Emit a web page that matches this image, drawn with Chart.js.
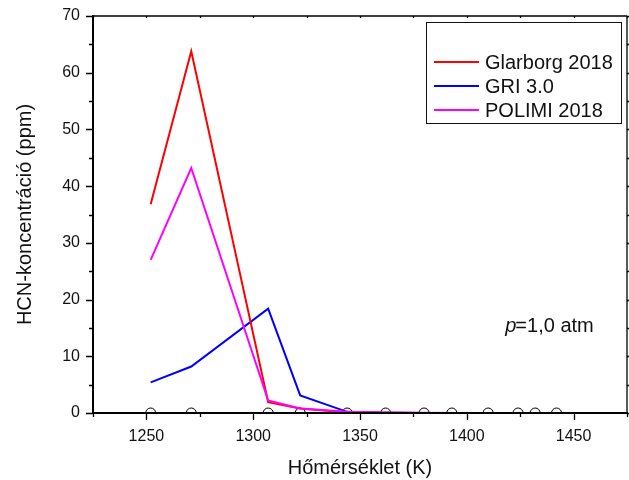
<!DOCTYPE html>
<html>
<head>
<meta charset="utf-8">
<script src="https://cdn.jsdelivr.net/npm/chart.js@4.4.1/dist/chart.umd.min.js"></script>
<style>
html,body{margin:0;padding:0;background:#fff;}
#wrap{width:629px;height:480px;}
</style>
</head>
<body>
<div id="wrap"><canvas id="c" width="629" height="480"></canvas></div>
<script>
// Temperatures (K)
const temps = [1252, 1271, 1307, 1322, 1344, 1362, 1380, 1393, 1410, 1424, 1432, 1442];
// HCN concentration (ppm)
const glarborg = [36.8, 63.8, 1.9, 0.8, 0.1, 0.05, 0.02, 0.01, 0, 0, 0, 0];
const gri      = [5.4, 8.2, 18.4, 3.1, 0.2, 0.05, 0.02, 0.01, 0, 0, 0, 0];
const polimi   = [27.0, 43.2, 2.2, 0.8, 0.2, 0.1, 0.05, 0.02, 0.01, 0, 0, 0];
const measured = [0, 0, 0, 0, 0, 0, 0, 0, 0, 0, 0, 0];
const seriesLabels = ['Glarborg 2018', 'GRI 3.0', 'POLIMI 2018'];
const seriesColors = ['#ff0000', '#0000ff', '#ff00ff'];
const xTickValues = [1250, 1300, 1350, 1400, 1450];
const yTickValues = [0, 10, 20, 30, 40, 50, 60, 70];
const xTitle = 'Hőmérséklet (K)';
const yTitle = 'HCN-koncentráció (ppm)';
const xMin = 1225, xMax = 1475;
const yMin = 0, yMax = 70;

const pts = arr => temps.map((t, i) => ({x: t, y: arr[i]}));
const FONT = 'Arial, "Liberation Sans", sans-serif';

const framePlugin = {
  id: 'frame',
  afterDatasetsDraw(chart) {
    const ctx = chart.ctx, a = chart.chartArea;
    const xs = chart.scales.x, ys = chart.scales.y;
    ctx.save();
    ctx.strokeStyle = '#000';
    ctx.lineWidth = 1.3;
    ctx.beginPath();
    ctx.moveTo(a.left, a.top); ctx.lineTo(a.right, a.top);
    ctx.moveTo(a.right, a.top); ctx.lineTo(a.right, a.bottom);
    ctx.stroke();
    ctx.lineWidth = 2;
    ctx.beginPath();
    ctx.moveTo(a.left, a.top - 1); ctx.lineTo(a.left, a.bottom + 1);
    ctx.moveTo(a.left - 1, a.bottom); ctx.lineTo(a.right + 1, a.bottom);
    ctx.stroke();
    // major and minor ticks
    const xStep = xTickValues[1] - xTickValues[0];
    const yStep = yTickValues[1] - yTickValues[0];
    ctx.lineWidth = 1.3;
    ctx.beginPath();
    for (let v = xMin; v <= xMax; v += xStep / 2) {
      const px = Math.round(xs.getPixelForValue(v)) + 0.5;
      const major = xTickValues.includes(v);
      ctx.moveTo(px, a.bottom); ctx.lineTo(px, a.bottom + (major ? 7 : 4));
      ctx.moveTo(px, a.top); ctx.lineTo(px, a.top + 2);
    }
    for (let v = yMin; v <= yMax; v += yStep / 2) {
      const py = Math.round(ys.getPixelForValue(v)) + 0.5;
      const major = yTickValues.includes(v);
      ctx.moveTo(a.left, py); ctx.lineTo(a.left - (major ? 7 : 4), py);
      ctx.moveTo(a.right, py); ctx.lineTo(a.right + 2, py);
    }
    ctx.stroke();

    // legend box
    const lx = 426, ly = 22, lw = 195, lh = 101;
    ctx.fillStyle = '#fff';
    ctx.fillRect(lx, ly, lw, lh);
    ctx.strokeStyle = '#111';
    ctx.lineWidth = 1;
    ctx.strokeRect(lx + 0.5, ly + 0.5, lw, lh);
    ctx.font = '20px ' + FONT;
    ctx.textBaseline = 'middle';
    ctx.textAlign = 'left';
    const rows = [62, 86, 110];
    seriesLabels.forEach((lab, i) => {
      ctx.strokeStyle = seriesColors[i];
      ctx.lineWidth = 2;
      ctx.beginPath();
      ctx.moveTo(434, rows[i]); ctx.lineTo(479, rows[i]);
      ctx.stroke();
      ctx.fillStyle = '#111';
      ctx.fillText(lab, 485, rows[i] + 1);
    });

    // annotation
    const ax = xs.getPixelForValue(1418), ay = ys.getPixelForValue(15.3);
    ctx.fillStyle = '#111';
    ctx.font = 'italic 20px ' + FONT;
    ctx.fillText('p', ax, ay);
    const pw = ctx.measureText('p').width;
    ctx.font = '20px ' + FONT;
    ctx.fillText('=1,0 atm', ax + pw - 1, ay);
    ctx.restore();
  }
};

new Chart(document.getElementById('c'), {
  type: 'line',
  data: {
    datasets: [
      {label: seriesLabels[0], data: pts(glarborg), borderColor: seriesColors[0], borderWidth: 2, pointRadius: 0, order: 1, tension: 0},
      {label: seriesLabels[1], data: pts(gri), borderColor: seriesColors[1], borderWidth: 2, pointRadius: 0, order: 2, tension: 0},
      {label: seriesLabels[2], data: pts(polimi), borderColor: seriesColors[2], borderWidth: 2, pointRadius: 0, order: 0, tension: 0},
      {label: 'measured', data: pts(measured), showLine: false, pointRadius: 5, pointBorderWidth: 1,
       pointBorderColor: '#000', pointBackgroundColor: '#fff', order: 3, clip: 0}
    ]
  },
  options: {
    responsive: false,
    animation: false,
    devicePixelRatio: 1,
    layout: {autoPadding: false, padding: {top: 16, right: 2, left: 0, bottom: 0}},
    plugins: {legend: {display: false}, tooltip: {enabled: false}},
    scales: {
      x: {
        type: 'linear', min: xMin, max: xMax,
        afterBuildTicks: s => { s.ticks = xTickValues.map(v => ({value: v})); },
        afterFit: s => { s.height = 67; s.paddingLeft = 0; s.paddingRight = 0; },
        grid: {display: false, drawTicks: false},
        border: {display: false},
        ticks: {
          padding: 14, color: '#111', maxRotation: 0, autoSkip: false,
          font: {family: FONT, size: 16},
          callback: v => String(v)
        },
        title: {display: true, text: xTitle, color: '#111', font: {family: FONT, size: 20}, padding: {top: 11, bottom: 0}}
      },
      y: {
        type: 'linear', min: yMin, max: yMax,
        afterBuildTicks: s => { s.ticks = yTickValues.map(v => ({value: v})); },
        afterFit: s => { s.width = 93; s.paddingTop = 0; s.paddingBottom = 0; },
        grid: {display: false, drawTicks: false},
        border: {display: false},
        ticks: {
          padding: 13, color: '#111', autoSkip: false,
          font: {family: FONT, size: 16},
          callback: v => String(v)
        },
        title: {display: true, text: yTitle, color: '#111', font: {family: FONT, size: 20}, padding: {top: 13, bottom: 0}}
      }
    }
  },
  plugins: [framePlugin]
});
</script>
</body>
</html>
